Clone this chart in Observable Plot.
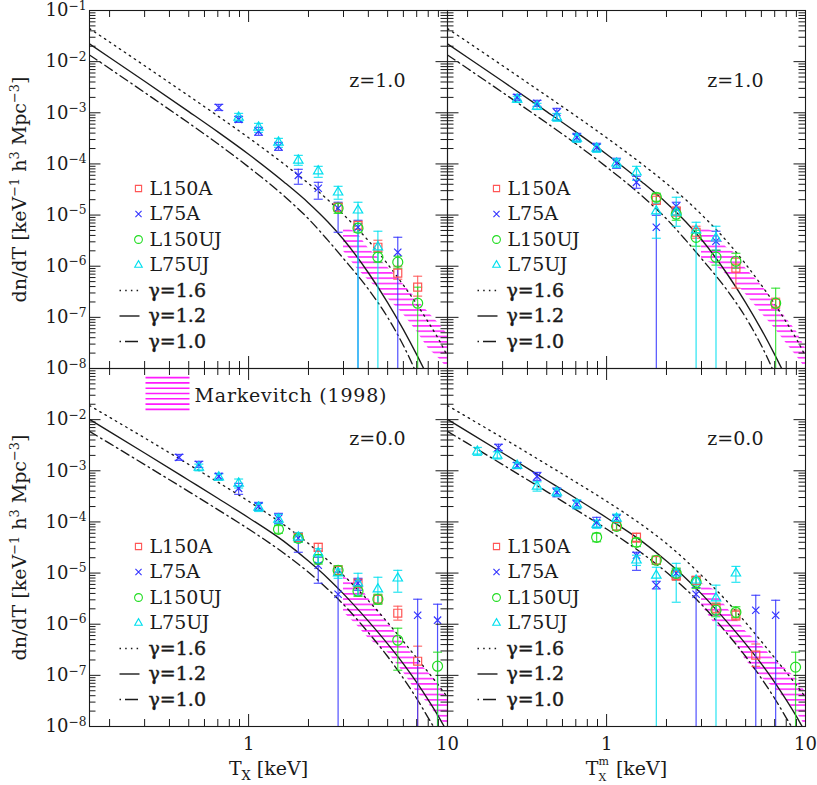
<!DOCTYPE html>
<html>
<head>
<meta charset="utf-8">
<script src="https://cdn.jsdelivr.net/npm/d3@7"></script>
<script src="https://cdn.jsdelivr.net/npm/@observablehq/plot@0.6"></script>
<style>
html,body{margin:0;padding:0;background:#fff;}
#chart svg{display:block;}
</style>
</head>
<body>
<div id="chart"></div>
<script>
// ---------------- data ----------------
// columns: "Tx" = T_X, "Tm" = T_X^m ; rows: "z1" = z=1.0, "z0" = z=0.0
const SERIES = ["L150A", "L75A", "L150UJ", "L75UJ"];
const GAMMAS = ["γ=1.6", "γ=1.2", "γ=1.0"];
const zLabels = ["z=1.0", "z=0.0"];

// points: [T keV, dn/dT, lower, upper]
const tl_L150A = [[2.818,1.42e-5,1.19e-5,1.70e-5],[3.548,6.32e-6,5.28e-6,7.57e-6],[4.467,2.35e-6,1.87e-6,3.22e-6],[5.623,7.3e-7,5.57e-7,1.0e-6],[7.079,3.89e-7,2.6e-7,6.37e-7]];
const tl_L75A = [[0.708,1.27e-3,1.11e-3,1.46e-3],[0.891,7.43e-4,6.49e-4,8.5e-4],[1.122,4.33e-4,3.62e-4,5.19e-4],[1.413,2.21e-4,1.84e-4,2.64e-4],[1.778,5.98e-5,4.0e-5,7.85e-5],[2.239,3.34e-5,2.04e-5,4.37e-5],[2.818,1.36e-5,4.61e-6,1.78e-5],[3.548,5.78e-6,1e-10,7.9e-6],[5.623,1.87e-6,1e-10,3.68e-6]];
const tl_L150UJ = [[2.818,1.36e-5,1.08e-5,1.7e-5],[3.548,5.52e-6,4.61e-6,6.92e-6],[4.467,1.5e-6,1.2e-6,1.87e-6],[5.623,1.2e-6,9.14e-7,1.57e-6],[7.079,1.89e-7,1e-10,3.89e-7]];
const tl_L75UJ = [[0.891,8.13e-4,6.79e-4,9.73e-4],[1.122,5.19e-4,4.14e-4,6.21e-4],[1.413,2.64e-4,2.11e-4,3.16e-4],[1.778,1.17e-4,9.4e-5,1.47e-4],[2.239,7.2e-5,5.47e-5,8.97e-5],[2.818,2.79e-5,2.04e-5,3.65e-5],[3.548,1.24e-5,1e-10,1.78e-5],[4.467,2.35e-6,1e-10,4.83e-6]];

const tr_L150A = [[1.778,1.95e-5,1.62e-5,2.55e-5],[2.239,1.19e-5,9.5e-6,1.42e-5],[2.818,4.61e-6,3.52e-6,6.04e-6],[4.467,9.14e-7,3.72e-7,1.43e-6],[7.079,1.89e-7,1.5e-7,2.37e-7]];
const tr_L75A = [[0.355,2.0e-3,1.75e-3,2.29e-3],[0.447,1.53e-3,1.33e-3,1.75e-3],[0.562,1.02e-3,7.1e-4,1.22e-3],[0.708,3.31e-4,2.76e-4,3.96e-4],[0.891,2.11e-4,1.76e-4,2.53e-4],[1.122,1.03e-4,8.2e-5,1.29e-4],[1.413,4.37e-5,3.34e-5,5.73e-5],[1.778,5.78e-6,1e-10,9.9e-6],[2.239,1.49e-5,1.24e-5,1.78e-5],[3.548,3.08e-6,2.05e-6,4.83e-6]];
const tr_L150UJ = [[1.778,2.23e-5,1.86e-5,2.67e-5],[2.239,1.04e-5,7.9e-6,1.36e-5],[2.818,3.68e-6,2.46e-6,5.05e-6],[3.548,1.5e-6,1.05e-6,2.05e-6],[4.467,1.25e-6,9.14e-7,1.79e-6],[7.079,1.89e-7,1e-10,3.72e-7]];
const tr_L75UJ = [[0.355,1.83e-3,1.6e-3,2.1e-3],[0.447,1.33e-3,1.16e-3,1.53e-3],[0.562,8.13e-4,6.8e-4,9.7e-4],[0.708,3.16e-4,2.64e-4,3.78e-4],[0.891,2.02e-4,1.68e-4,2.41e-4],[1.122,1.03e-4,8.5e-5,1.25e-4],[1.413,6.86e-5,4.79e-5,8.97e-5],[1.778,1.19e-5,3.52e-6,1.7e-5],[2.239,1.13e-5,6.04e-6,2.23e-5],[2.818,5.05e-6,1e-10,7.23e-6],[3.548,3.52e-6,1e-10,6.04e-6]];

const bl_L150A = [[1.778,5.0e-5,4.2e-5,6.0e-5],[2.239,3.19e-5,2.7e-5,3.8e-5],[2.818,1.13e-5,9.4e-6,1.36e-5],[3.548,6.32e-6,5.3e-6,7.6e-6],[4.467,3.08e-6,2.55e-6,3.7e-6],[5.623,1.64e-6,1.2e-6,2.25e-6],[7.079,1.89e-7,1e-10,3.72e-7]];
const bl_L75A = [[0.447,1.83e-3,1.6e-3,2.09e-3],[0.562,1.33e-3,1.16e-3,1.53e-3],[0.708,7.78e-4,6.8e-4,8.9e-4],[0.891,4.53e-4,3.46e-4,5.68e-4],[1.122,2.02e-4,1.68e-4,2.41e-4],[1.413,1.17e-4,9.4e-5,1.47e-4],[1.778,4.79e-5,2.55e-5,5.98e-5],[2.239,1.42e-5,6.32e-6,2.04e-5],[2.818,3.85e-6,1e-10,1.04e-5],[3.548,6.32e-6,4.6e-6,7.9e-6],[7.079,1.5e-6,1e-10,3.08e-6],[8.913,1.2e-6,1e-10,2.46e-6]];
const bl_L150UJ = [[1.413,7.16e-5,6.0e-5,8.5e-5],[1.778,4.79e-5,4.0e-5,5.7e-5],[2.239,1.86e-5,1.5e-5,2.3e-5],[2.818,1.13e-5,9.0e-6,1.4e-5],[3.548,4.41e-6,3.5e-6,5.5e-6],[4.467,3.08e-6,2.45e-6,3.85e-6],[5.623,4.87e-7,1.26e-7,8.35e-7],[8.913,1.51e-7,1e-10,2.84e-7]];
const bl_L75UJ = [[0.562,1.16e-3,1.0e-3,1.35e-3],[0.708,7.5e-4,6.5e-4,8.7e-4],[0.891,5.68e-4,4.6e-4,6.9e-4],[1.122,1.93e-4,1.6e-4,2.3e-4],[1.413,1.12e-4,9.0e-5,1.4e-4],[1.778,5.0e-5,4.0e-5,6.2e-5],[2.239,2.44e-5,1.6e-5,3.0e-5],[2.818,1.0e-5,7.9e-6,1.2e-5],[3.548,6.32e-6,3.68e-6,9.9e-6],[4.467,4.83e-6,2.57e-6,8.28e-6],[5.623,7.91e-6,4.22e-6,1.13e-5]];

const br_L150A = [[1.122,8.2e-5,6.9e-5,9.8e-5],[1.413,5.0e-5,4.0e-5,6.0e-5],[1.778,1.78e-5,1.5e-5,2.1e-5],[2.239,9.0e-6,7.2e-6,1.1e-5],[2.818,7.23e-6,6.0e-6,8.6e-6],[3.548,2.05e-6,1.65e-6,2.6e-6],[4.467,1.5e-6,1.2e-6,1.9e-6],[5.623,2.48e-7,1.5e-7,4.1e-7]];
const br_L75A = [[0.286,2.86e-3,2.45e-3,3.3e-3],[0.355,1.27e-3,1.11e-3,1.45e-3],[0.447,7.78e-4,6.5e-4,9.3e-4],[0.562,3.78e-4,3.1e-4,4.6e-4],[0.708,2.21e-4,1.85e-4,2.64e-4],[0.891,9.82e-5,7.8e-5,1.23e-4],[1.122,1.17e-4,1.0e-4,1.38e-4],[1.413,2.23e-5,1.13e-5,2.55e-5],[1.778,5.78e-6,4.9e-6,6.9e-6],[2.239,9.9e-6,8.0e-6,1.2e-5],[2.818,3.85e-6,1e-10,5.2e-6],[5.623,1.88e-6,1e-10,3.68e-6],[7.079,1.5e-6,1e-10,2.94e-6]];
const br_L150UJ = [[0.891,5.0e-5,4.1e-5,6.0e-5],[1.122,8.2e-5,6.9e-5,9.8e-5],[1.413,4.0e-5,3.3e-5,4.8e-5],[1.778,1.78e-5,1.48e-5,2.15e-5],[2.239,9.9e-6,7.5e-6,1.25e-5],[2.818,6.6e-6,5.0e-6,8.3e-6],[3.548,1.88e-6,1.4e-6,2.5e-6],[4.467,1.71e-6,1.35e-6,2.2e-6],[8.913,1.45e-7,1e-10,2.84e-7]];
const br_L75UJ = [[0.224,2.39e-3,2.0e-3,2.86e-3],[0.282,2.0e-3,1.7e-3,2.35e-3],[0.355,1.27e-3,1.11e-3,1.45e-3],[0.447,4.95e-4,4.0e-4,6.1e-4],[0.562,3.78e-4,3.2e-4,4.5e-4],[0.708,2.21e-4,1.8e-4,2.7e-4],[0.891,8.97e-5,7.5e-5,1.07e-4],[1.122,1.17e-4,9.6e-5,1.42e-4],[1.413,1.78e-5,1.41e-5,2.23e-5],[1.778,9.0e-6,1e-10,1.3e-5],[2.239,9.9e-6,2.69e-6,1.55e-5],[2.818,7.23e-6,5.8e-6,8.5e-6],[3.548,3.22e-6,1e-10,5.8e-6],[4.467,9.9e-6,6.6e-6,1.35e-5]];

// model curves (same in both columns of a row)
const curveT = [0.1585, 0.2, 0.3, 0.5, 0.7, 1, 1.5, 2, 2.5, 3, 4, 5, 6, 7, 8, 9, 10];
const z1_g16 = [0.0444, 0.0242, 8.32e-3, 2.14e-3, 8.69e-4, 3.26e-4, 1.007e-4, 4.16e-5, 2.0e-5, 1.02e-5, 3.16e-6, 1.10e-6, 4.27e-7, 1.82e-7, 8.1e-8, 3.8e-8, 1.74e-8];
const z1_g12 = [0.0222, 1.205e-2, 4.13e-3, 1.054e-3, 4.23e-4, 1.545e-4, 4.49e-5, 1.73e-5, 7.41e-6, 3.33e-6, 7.45e-7, 1.95e-7, 5.77e-8, 1.87e-8, 6.6e-9, null, null];
const z1_g10 = [1.352e-2, 7.33e-3, 2.49e-3, 6.31e-4, 2.48e-4, 8.69e-5, 2.40e-5, 8.45e-6, 3.23e-6, 1.41e-6, 3.55e-7, 1.0e-7, 2.82e-8, 7.9e-9, null, null, null];
const z0_g16 = [1.89e-2, 1.11e-2, 4.39e-3, 1.33e-3, 6.01e-4, 2.54e-4, 8.83e-5, 3.78e-5, 1.77e-5, 9.02e-6, 2.89e-6, 1.08e-6, 4.6e-7, 2.19e-7, 1.15e-7, 6.46e-8, 3.72e-8];
const z0_g12 = [1.01e-2, 5.85e-3, 2.23e-3, 6.53e-4, 2.90e-4, 1.21e-4, 4.21e-5, 1.72e-5, 7.96e-6, 3.92e-6, 1.15e-6, 4.13e-7, 1.68e-7, 7.29e-8, 3.32e-8, 1.58e-8, 7.6e-9];
const z0_g10 = [5.89e-3, 3.43e-3, 1.32e-3, 3.92e-4, 1.74e-4, 7.26e-5, 2.47e-5, 1.04e-5, 4.85e-6, 2.43e-6, 6.86e-7, 2.34e-7, 8.77e-8, 3.53e-8, 1.48e-8, 6.9e-9, null];

// Markevitch (1998) band, upper/lower edges
const bandT = [3, 3.5, 4, 4.5, 5, 6, 7, 8, 9, 10];
const tl_bandHi = [5.78e-6, 4.61e-6, 2.25e-6, 1.43e-6, 9.55e-7, 4.45e-7, 2.26e-7, 1.26e-7, 7.7e-8, 4.7e-8];
const tl_bandLo = [1.96e-6, 9.14e-7, 5.33e-7, 3.56e-7, 2.37e-7, 1.15e-7, 5.37e-8, 2.5e-8, 1.6e-8, 1.02e-8];
const tr_bandHi = [6.04e-6, 4.61e-6, 2.35e-6, 1.71e-6, 9.14e-7, 4.26e-7, 1.98e-7, 9.64e-8, 5.37e-8, 2.5e-8];
const tr_bandLo = [1.43e-6, 1.05e-6, 6.98e-7, 4.45e-7, 2.84e-7, 1.21e-7, 6.15e-8, 3.13e-8, 1.75e-8, 1.02e-8];
const bl_bandHi = [8.28e-6, 6.6e-6, 3.22e-6, 1.88e-6, 1.09e-6, 4.26e-7, 1.98e-7, 1.15e-7, 7.0e-8, 3.28e-8];
const bl_bandLo = [1.71e-6, 9.55e-7, 5.33e-7, 3.72e-7, 2.84e-7, 1.15e-7, 4.7e-8, 2.86e-8, 1.46e-8, 1.02e-8];
const br_bandHi = [6.32e-6, 4.61e-6, 2.15e-6, 1.25e-6, 7.3e-7, 3.89e-7, 1.98e-7, 1.32e-7, 8.8e-8, 4.7e-8];
const br_bandLo = [2.35e-6, 1.0e-6, 6.98e-7, 4.06e-7, 1.98e-7, 9.2e-8, 5.62e-8, 3.28e-8, 1.91e-8, 1.02e-8];

// axis ticks and labels
const xMajor = [1, 10];
const xMinor = [0.2, 0.3, 0.4, 0.5, 0.6, 0.7, 0.8, 0.9, 2, 3, 4, 5, 6, 7, 8, 9];
const yMajor = [1e-8, 1e-7, 1e-6, 1e-5, 1e-4, 1e-3, 1e-2, 1e-1];
const yMinor = [];
for (let e = -8; e <= -2; e++) for (let k = 2; k <= 9; k++) yMinor.push(k * Math.pow(10, e));
const yTickTop = [-1, -2, -3, -4, -5, -6, -7, -8];
const yTickBottom = [-2, -3, -4, -5, -6, -7, -8];
const xTickLabels = ["1", "10"];
const xTitles = ["T_{X} [keV]", "T^{m}_{X} [keV]"];
const yTitle = "dn/dT [keV^{−1} h^{3} Mpc^{−3}]";
const markevitchLabel = "Markevitch (1998)";

// ---------------- styling ----------------
const COLORS = {L150A: "#ff5555", L75A: "#3333ff", L150UJ: "#22dd22", L75UJ: "#00dfee"};
const SYMBOLS = {L150A: "square", L75A: "times", L150UJ: "circle", L75UJ: "triangle"};
const R_PT = {L150A: 4.5, L75A: 3.4, L150UJ: 5, L75UJ: 3.5};
const R_LEG = {L150A: 3.5, L75A: 2.9, L150UJ: 3.9, L75UJ: 2.8};
const DASH = {"γ=1.6": "1.5,4.5", "γ=1.2": null, "γ=1.0": "9,4,1.5,4"};
const DASH_LEG = {"γ=1.6": "1.5,4.2", "γ=1.2": null, "γ=1.0": "1.5,4,13,4"};
const INK = "#1a1a1a";
const HATCH = "#ff1aff";

const W = 817, H = 785, ML = 88, MR = 12, MT = 10, MB = 59;
const FW = (W - ML - MR) / 2, FH = (H - MT - MB) / 2;

// ---------------- tables ----------------
const panelSets = {
  Tx: {z1: [tl_L150A, tl_L75A, tl_L150UJ, tl_L75UJ], z0: [bl_L150A, bl_L75A, bl_L150UJ, bl_L75UJ]},
  Tm: {z1: [tr_L150A, tr_L75A, tr_L150UJ, tr_L75UJ], z0: [br_L150A, br_L75A, br_L150UJ, br_L75UJ]}
};
const points = [];
for (const fx of ["Tx", "Tm"]) for (const fy of ["z1", "z0"]) {
  panelSets[fx][fy].forEach((arr, i) => arr.forEach(([T, y, lo, hi]) => points.push({T, y, lo, hi, fx, fy, series: SERIES[i]})));
}
const curveSets = {z1: [z1_g16, z1_g12, z1_g10], z0: [z0_g16, z0_g12, z0_g10]};
const curves = [];
for (const fx of ["Tx", "Tm"]) for (const fy of ["z1", "z0"]) {
  curveSets[fy].forEach((arr, gi) => arr.forEach((y, i) => { if (y != null) curves.push({T: curveT[i], y, fx, fy, g: GAMMAS[gi], key: fx + fy + gi}); }));
}
const bandSets = {Tx: {z1: [tl_bandLo, tl_bandHi], z0: [bl_bandLo, bl_bandHi]}, Tm: {z1: [tr_bandLo, tr_bandHi], z0: [br_bandLo, br_bandHi]}};
const bands = [];
for (const fx of ["Tx", "Tm"]) for (const fy of ["z1", "z0"]) {
  const [lo, hi] = bandSets[fx][fy];
  bandT.forEach((T, i) => bands.push({T, lo: lo[i], hi: hi[i], fx, fy, key: fx + fy}));
}
const yLabels = [
  ...yTickTop.map(e => ({v: Math.pow(10, e), t: "10^{−" + (-e) + "}", fx: "Tx", fy: "z1"})),
  ...yTickBottom.map(e => ({v: Math.pow(10, e), t: "10^{−" + (-e) + "}", fx: "Tx", fy: "z0"}))
];
const xLabels = [];
for (const fx of ["Tx", "Tm"]) xMajor.forEach((v, i) => xLabels.push({v, t: xTickLabels[i], fx, fy: "z0"}));

// custom symbols
const capSym = {draw(ctx, size) { const r = Math.sqrt(size / Math.PI); ctx.moveTo(-r, 0); ctx.lineTo(r, 0); }};
const lineSym = {draw(ctx) { ctx.moveTo(-10, 0); ctx.lineTo(10, 0); }};
const hatchSym = {draw(ctx) { for (let i = 0; i < 7; i++) { const y = -15.9 + i * 5.3; ctx.moveTo(-22, y); ctx.lineTo(22, y); } }};

// ---------------- marks ----------------
const marks = [];
marks.push(Plot.areaY(bands, {x: "T", y1: "lo", y2: "hi", z: "key", fx: "fx", fy: "fy", fill: "url(#mkhatch)", clip: true}));
for (const g of GAMMAS) {
  marks.push(Plot.line(curves.filter(d => d.g === g), {
    x: "T", y: "y", z: "key", fx: "fx", fy: "fy", stroke: INK, strokeWidth: 1.35,
    strokeDasharray: DASH[g] || undefined, curve: "monotone-x", clip: true
  }));
}
for (const s of SERIES) {
  const d = points.filter(p => p.series === s);
  marks.push(Plot.ruleX(d, {x: "T", y1: "lo", y2: "hi", fx: "fx", fy: "fy", stroke: COLORS[s], strokeWidth: 1.2, strokeOpacity: 0.85, clip: true}));
  marks.push(Plot.dot(d, {x: "T", y: "hi", fx: "fx", fy: "fy", symbol: capSym, r: 4.5, fill: "none", stroke: COLORS[s], strokeWidth: 1.2, strokeOpacity: 0.85, clip: true}));
  marks.push(Plot.dot(d.filter(p => p.lo > 1e-9), {x: "T", y: "lo", fx: "fx", fy: "fy", symbol: capSym, r: 4.5, fill: "none", stroke: COLORS[s], strokeWidth: 1.2, strokeOpacity: 0.85, clip: true}));
}
for (const s of SERIES) {
  marks.push(Plot.dot(points.filter(p => p.series === s), {x: "T", y: "y", fx: "fx", fy: "fy", symbol: SYMBOLS[s], r: R_PT[s], fill: "none", stroke: COLORS[s], strokeWidth: 1.2, clip: true}));
}

// legends (repeated in every panel)
SERIES.forEach((s, i) => {
  marks.push(Plot.dot([s], {frameAnchor: "top-left", dx: 49, dy: 178 + i * 25.5, symbol: SYMBOLS[s], r: R_LEG[s], fill: "none", stroke: COLORS[s], strokeWidth: 1.1}));
  marks.push(Plot.text([s], {frameAnchor: "top-left", dx: 60, dy: 178 + i * 25.5, text: d => d, textAnchor: "start", lineAnchor: "middle", fill: INK, fontSize: 19}));
});
GAMMAS.forEach((g, j) => {
  const i = j + 4;
  marks.push(Plot.dot([g], {frameAnchor: "top-left", dx: 40, dy: 178 + i * 25.5, symbol: lineSym, r: 1, fill: "none", stroke: INK, strokeWidth: 1.4, strokeDasharray: DASH_LEG[g] || undefined}));
  marks.push(Plot.text([g], {frameAnchor: "top-left", dx: 59, dy: 178 + i * 25.5, text: d => d, textAnchor: "start", lineAnchor: "middle", fill: INK, stroke: INK, strokeWidth: 0.45, fontSize: 19}));
});
// redshift labels
marks.push(Plot.text([{fy: "z1", t: zLabels[0]}, {fy: "z0", t: zLabels[1]}], {fy: "fy", text: "t", frameAnchor: "top-right", dx: -42, dy: 70, textAnchor: "end", lineAnchor: "middle", fill: INK, fontSize: 19}));
// Markevitch legend (bottom-left panel)
marks.push(Plot.dot([{fx: "Tx", fy: "z0"}], {fx: "fx", fy: "fy", frameAnchor: "top-left", dx: 78, dy: 25, symbol: hatchSym, r: 1, fill: "none", stroke: HATCH, strokeWidth: 1.6}));
marks.push(Plot.text([{fx: "Tx", fy: "z0"}], {fx: "fx", fy: "fy", frameAnchor: "top-left", dx: 105, dy: 27, text: () => markevitchLabel, textAnchor: "start", lineAnchor: "middle", fill: INK, fontSize: 19}));

// frame and ticks on all four sides
marks.push(Plot.frame({stroke: INK, strokeWidth: 1.1}));
marks.push(Plot.tickX(xMajor, {x: d => d, insetTop: FH - 12, stroke: INK}));
marks.push(Plot.tickX(xMinor, {x: d => d, insetTop: FH - 7, stroke: INK}));
marks.push(Plot.tickX(xMajor, {x: d => d, insetBottom: FH - 12, stroke: INK}));
marks.push(Plot.tickX(xMinor, {x: d => d, insetBottom: FH - 7, stroke: INK}));
marks.push(Plot.tickY(yMajor, {y: d => d, insetRight: FW - 12, stroke: INK}));
marks.push(Plot.tickY(yMinor, {y: d => d, insetRight: FW - 7, stroke: INK}));
marks.push(Plot.tickY(yMajor, {y: d => d, insetLeft: FW - 12, stroke: INK}));
marks.push(Plot.tickY(yMinor, {y: d => d, insetLeft: FW - 7, stroke: INK}));

// tick labels and titles
marks.push(Plot.text(yLabels, {y: "v", fx: "fx", fy: "fy", frameAnchor: "left", dx: -3, text: "t", textAnchor: "end", lineAnchor: "middle", fill: INK, fontSize: 18}));
marks.push(Plot.text(xLabels, {x: "v", fx: "fx", fy: "fy", frameAnchor: "bottom", dy: 18, text: "t", lineAnchor: "middle", fill: INK, fontSize: 18}));
marks.push(Plot.text([{fx: "Tx", fy: "z0", t: xTitles[0]}, {fx: "Tm", fy: "z0", t: xTitles[1]}], {fx: "fx", fy: "fy", frameAnchor: "bottom", dy: 42, text: "t", lineAnchor: "middle", fill: INK, fontSize: 19}));
marks.push(Plot.text([{fx: "Tx", fy: "z1"}, {fx: "Tx", fy: "z0"}], {fx: "fx", fy: "fy", frameAnchor: "left", dx: -70, rotate: -90, text: () => yTitle, textAnchor: "middle", lineAnchor: "middle", fill: INK, fontSize: 19}));

const chart = Plot.plot({
  width: W, height: H,
  marginLeft: ML, marginRight: MR, marginTop: MT, marginBottom: MB,
  style: {background: "#fff", fontFamily: "'DejaVu Serif', serif", fontSize: "19px", color: INK},
  x: {type: "log", domain: [0.1585, 10], axis: null},
  y: {type: "log", domain: [1e-8, 1e-1], axis: null},
  fx: {domain: ["Tx", "Tm"], padding: 0, axis: null},
  fy: {domain: ["z1", "z0"], padding: 0, axis: null},
  marks
});
document.getElementById("chart").appendChild(chart);

// hatch pattern for the Markevitch band
const ns = "http://www.w3.org/2000/svg";
const svg = chart.tagName.toLowerCase() === "svg" ? chart : chart.querySelector("svg");
const defs = document.createElementNS(ns, "defs");
const pat = document.createElementNS(ns, "pattern");
pat.setAttribute("id", "mkhatch");
pat.setAttribute("patternUnits", "userSpaceOnUse");
pat.setAttribute("width", "10");
pat.setAttribute("height", "5.3");
const pl = document.createElementNS(ns, "line");
pl.setAttribute("x1", "0"); pl.setAttribute("x2", "10");
pl.setAttribute("y1", "2.6"); pl.setAttribute("y2", "2.6");
pl.setAttribute("stroke", HATCH); pl.setAttribute("stroke-width", "1.5");
pat.appendChild(pl); defs.appendChild(pat);
svg.insertBefore(defs, svg.firstChild);

// rich text: ^{..} superscripts and _{..} subscripts (stacked when ^{..}_{..})
function richify(root) {
  const re = /([\^_])\{([^}]*)\}/g;
  root.querySelectorAll("text").forEach(el => {
    const s = el.textContent;
    if (!/[\^_]\{/.test(s)) return;
    const stacked = s.includes("}_{");
    const fs = parseFloat(getComputedStyle(el).fontSize) || 19;
    const supUp = (stacked ? 0.48 : 0.36) * fs, subDown = (stacked ? 0.36 : 0.28) * fs;
    const small = (stacked ? 0.58 : 0.68) * fs;
    const parts = []; let last = 0, m;
    re.lastIndex = 0;
    while ((m = re.exec(s))) {
      if (m.index > last) parts.push({t: s.slice(last, m.index), k: ""});
      parts.push({t: m[2], k: m[1]});
      last = re.lastIndex;
    }
    if (last < s.length) parts.push({t: s.slice(last), k: ""});
    while (el.firstChild) el.removeChild(el.firstChild);
    let shift = 0, prev = null, prevK = "", supW = 0, pad = 0;
    for (const p of parts) {
      const ts = document.createElementNS(ns, "tspan");
      const target = p.k === "^" ? -supUp : p.k === "_" ? subDown : 0;
      const dy = target - shift;
      if (dy) ts.setAttribute("dy", dy.toFixed(2));
      if (p.k) ts.setAttribute("font-size", small.toFixed(2));
      let dx = 0;
      if (p.k === "_" && prevK === "^" && prev) { supW = prev.getComputedTextLength(); dx = -supW; }
      else if (!p.k && pad > 0) { dx = pad; pad = 0; }
      if (dx) ts.setAttribute("dx", dx.toFixed(2));
      ts.textContent = p.t;
      el.appendChild(ts);
      if (p.k === "_" && supW) { pad = supW - ts.getComputedTextLength() + 1; supW = 0; }
      shift = target; prev = ts; prevK = p.k;
    }
  });
  root.querySelectorAll("text").forEach(el => {
    if (el.textContent === markevitchLabel) el.setAttribute("letter-spacing", "0.8");
  });
}
richify(svg);
</script>
</body>
</html>
